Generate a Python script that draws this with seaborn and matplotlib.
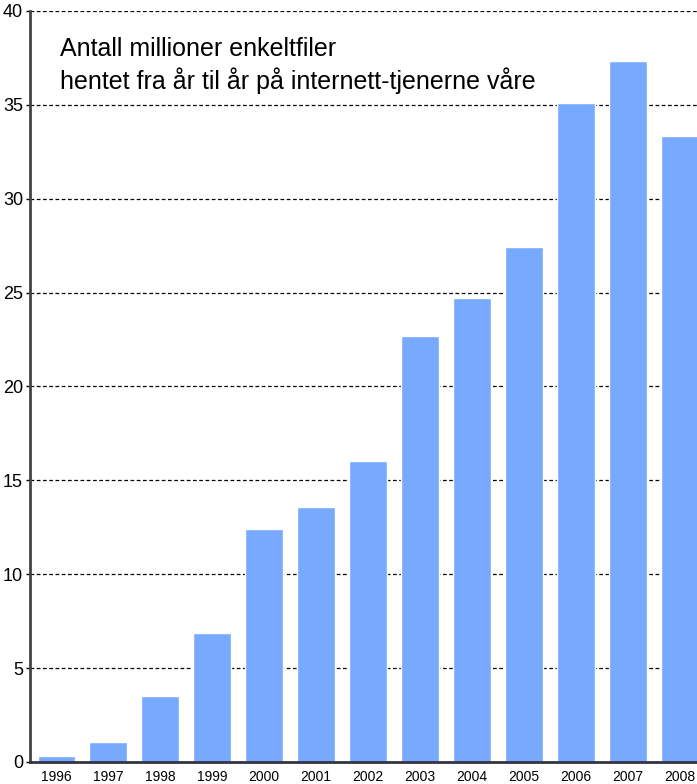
import matplotlib
matplotlib.use("Agg")
import matplotlib.pyplot as plt
import seaborn as sns
import pandas as pd

years = ['1996', '1997', '1998', '1999', '2000', '2001', '2002',
         '2003', '2004', '2005', '2006', '2007', '2008']
millions = [0.3, 1.08, 3.5, 6.87, 12.41, 13.58, 16.03,
            22.69, 24.71, 27.43, 35.1, 37.34, 33.34]
title_lines = ['Antall millioner enkeltfiler',
               'hentet fra år til år på internett-tjenerne våre']

df = pd.DataFrame({'year': years, 'value': millions})

sns.set_style('white')
plt.rcParams['font.family'] = ['Liberation Sans Narrow', 'Liberation Sans', 'DejaVu Sans']

fig = plt.figure(figsize=(6.97, 7.84), dpi=100)
ax = fig.add_axes([30 / 697, 22 / 784, 667 / 697, 751 / 784])

sns.barplot(data=df, x='year', y='value', color='#77aaff', saturation=1,
            width=0.73, ax=ax, zorder=3)

ax.set_ylim(0, 40)
ax.set_xlim(-0.51, 12.33)
ax.set_yticks(range(0, 41, 5))
ax.yaxis.grid(True, linestyle=(0, (3, 2)), color='black', linewidth=0.9, zorder=0)
ax.set_axisbelow(True)
ax.set_xlabel('')
ax.set_ylabel('')

for s in ['top', 'right']:
    ax.spines[s].set_visible(False)
ax.spines['left'].set_color('#444444')
ax.spines['left'].set_linewidth(2)
ax.spines['bottom'].set_color('#333344')
ax.spines['bottom'].set_linewidth(2)
ax.spines['left'].set_zorder(4)
ax.spines['bottom'].set_zorder(4)

ax.tick_params(axis='y', left=True, length=3, width=1, labelsize=13, pad=2,
               colors='black')
ax.tick_params(axis='x', bottom=False, labelsize=10, pad=2, labelcolor='black')

ax.text(0.045, 0.965, '\n'.join(title_lines), transform=ax.transAxes,
        fontsize=18, va='top', ha='left', linespacing=1.3, color='black')

fig.savefig('out.png', dpi=100)
